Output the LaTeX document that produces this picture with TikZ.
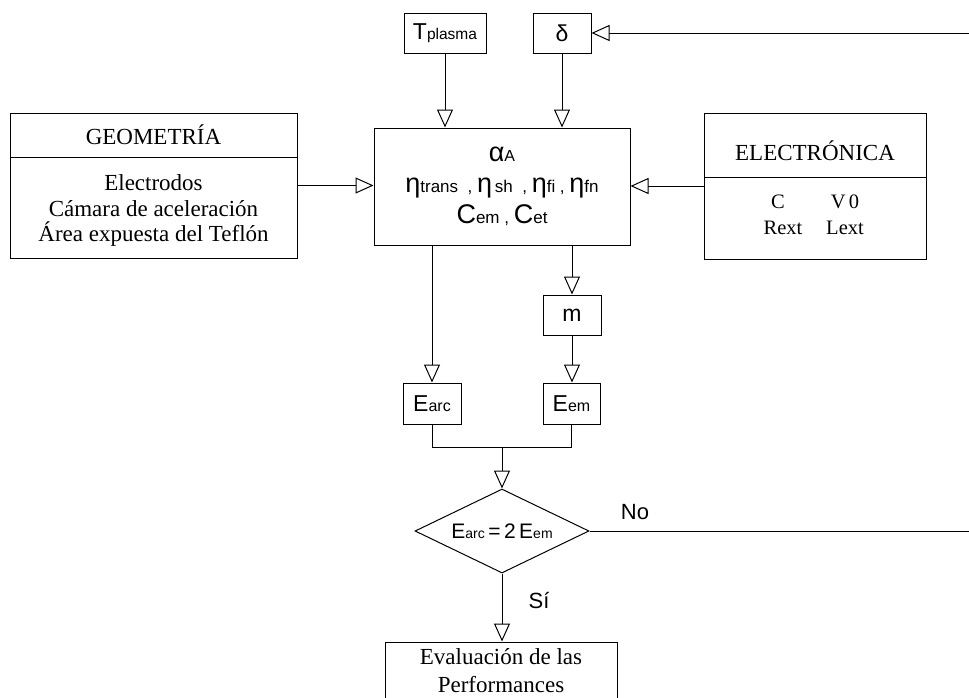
\documentclass[tikz,border=0pt]{standalone}
\usepackage{fontspec}
\setmainfont{Liberation Serif}
\newfontfamily\arl{Liberation Sans}
\usetikzlibrary{arrows.meta,shapes.geometric}
\newcommand\fsz[2]{{\fontsize{#1}{#1}\selectfont #2}}
\begin{document}
\begin{tikzpicture}[x=1pt,y=-1pt,line width=1pt,
  box/.style={draw,rectangle,inner sep=0pt,font=\arl},
  serif/.style={inner sep=0pt,align=center},
  arr/.style={-{Triangle[open,length=18pt,width=16pt]}},
  lbl/.style={inner sep=0pt,font=\arl\fontsize{22}{22}\selectfont}]
\useasboundingbox (0,0) rectangle (969,697);
\fill[white] (0,0) rectangle (969,697);
\clip (0,0) rectangle (969,697);

% top inputs
\node[box,minimum width=82,minimum height=40] (tp) at (445,33) {\fsz{23}{T}\fsz{15.5}{plasma}};
\node[box,minimum width=58,minimum height=40] (dl) at (562,33) {\fsz{23}{δ}};

% central box
\node[box,minimum width=256,minimum height=117,align=center,
      font=\arl\fontsize{24}{31}\selectfont] (cen) at (502,186.5)
  {\fsz{27}{α}\fsz{16}{A}\\
   \fsz{27}{η}\fsz{17}{trans\ \ ,\ }\fsz{27}{η}\fsz{17}{\,sh\ \ ,\ }\fsz{27}{η}\fsz{17}{fi\ ,\ }\fsz{27}{η}\fsz{17}{fn}\\
   \fsz{27}{C}\fsz{17}{em\ ,\ }\fsz{27}{C}\fsz{17}{et}};

% geometry box
\node[draw,rectangle,inner sep=0pt,minimum width=287,minimum height=145] (geo) at (153.5,185.5) {};
\draw (10,157) -- (297,157);
\node[serif,font=\fontsize{23}{23}\selectfont] (geot) at (153.5,135) {GEOMETRÍA};
\node[serif,font=\fontsize{23}{25.5}\selectfont] (geob) at (153.5,210.5)
  {Electrodos\\Cámara de aceleración\\Área expuesta del Teflón};

% electronics box
\node[draw,rectangle,inner sep=0pt,minimum width=222,minimum height=146] (ele) at (815,186) {};
\draw (704,177) -- (926,177);
\node[serif,font=\fontsize{23}{23}\selectfont] (elet) at (815,151) {ELECTRÓNICA};
\node[serif,font=\fontsize{20.5}{20.5}\selectfont] (ec) at (778,202) {C};
\node[serif,font=\fontsize{20.5}{20.5}\selectfont] (ev) at (845,202) {V\,0};
\node[serif,font=\fontsize{20.5}{20.5}\selectfont] (er) at (783,228) {Rext};
\node[serif,font=\fontsize{20.5}{20.5}\selectfont] (el) at (845,228) {Lext};

% energies
\node[box,minimum width=58,minimum height=41] (earc) at (432,403.5) {\fsz{23}{E}\fsz{16}{arc}};
\node[box,minimum width=58,minimum height=40] (m) at (572,315) {\fsz{23}{m}};
\node[box,minimum width=57,minimum height=41] (eem) at (571.5,403.5) {\fsz{23}{E}\fsz{16}{em}};
\coordinate (j) at (502,447);

% decision
\node[draw,diamond,aspect=2.07,inner sep=0pt,minimum width=174,minimum height=84,font=\arl] (dia) at (502,531)
  {\fsz{21}{E}\fsz{14}{arc}\fsz{21}{\,=\,2\,E}\fsz{14}{em}};

% result
\node[draw,rectangle,inner sep=0pt,minimum width=232,minimum height=58,align=center,
      font=\fontsize{23}{28}\selectfont] (ev2) at (501,671) {Evaluación de las\\Performances};

% connectors
\draw[arr] (tp.south) -- (tp.south |- cen.north);
\draw[arr] (dl.south) -- (dl.south |- cen.north);
\draw[arr] (geo.east) -- (geo.east -| cen.west);
\draw[arr] (ele.west) -- (ele.west -| cen.east);
\draw[arr] (earc.north |- cen.south) -- (earc.north);
\draw[arr] (m.north |- cen.south) -- (m.north);
\draw[arr] (m.south) -- (m.south |- eem.north);
\draw (earc.south) -- (earc.south |- j) -- (eem.south |- j) -- (eem.south);
\draw[arr] (j) -- (dia.north);
\draw[arr] (dia.south) -- (dia.south |- ev2.north);
\coordinate (r1) at (1000,531);
\coordinate (r2) at (1000,33);
\draw[arr] (dia.east) -- (r1) -- (r2) -- (dl.east);

\node[lbl] (no) at (635,512) {No};
\node[lbl] (si) at (539,600) {Sí};
\end{tikzpicture}
\end{document}
